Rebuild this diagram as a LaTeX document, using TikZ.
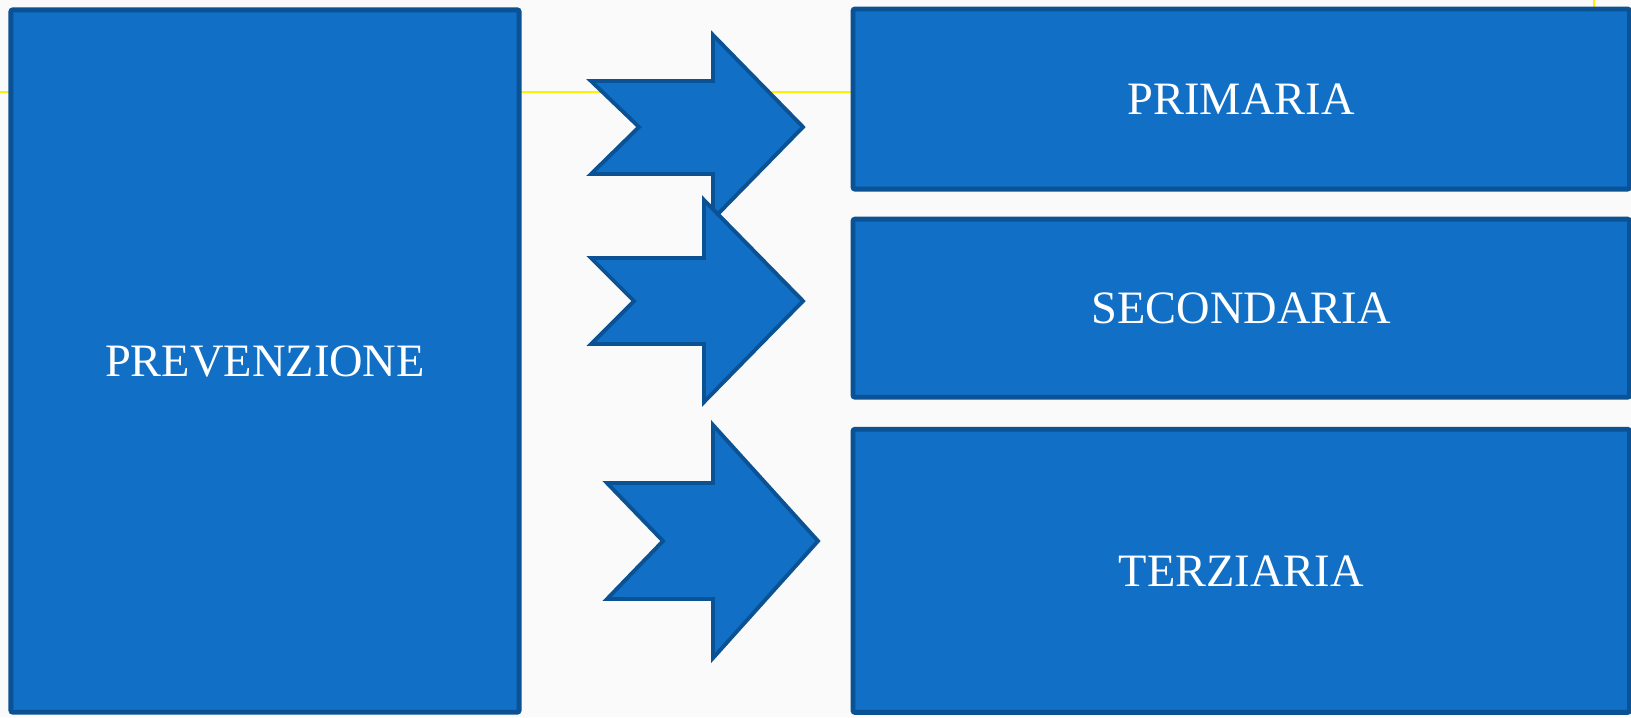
\documentclass[tikz,border=0pt]{standalone}
\usepackage{fontspec}
\setmainfont{Liberation Serif}
\usetikzlibrary{positioning}

\definecolor{boxblue}{RGB}{17,111,198}
\definecolor{edgeblue}{RGB}{11,82,148}
\definecolor{sheet}{RGB}{250,250,250}

\tikzstyle{block} = [draw=edgeblue, fill=boxblue, rectangle,
    line width=1.4pt, rounded corners=0.6pt, outer sep=0pt,
    text=white, font=\fontsize{13.2}{15}\selectfont]
\tikzstyle{fatarrow} = [draw=edgeblue, fill=boxblue, line width=1.1pt, line join=miter]

\begin{document}
\begin{tikzpicture}[x=0.01cm, y=-0.01cm]
          \fill[sheet] (0,0) rectangle (1631,717);
          \useasboundingbox (0,0) rectangle (1631,717);
          \draw[yellow, line width=0.6pt] (0,92) -- (853,92);
          \draw[yellow, line width=0.6pt] (1594,0) -- (1594,7);

          \node (prev) [block, minimum width=5.08cm, minimum height=7.02cm] at (265,361) {PREVENZIONE};
          \node (prim) [block, minimum width=7.76cm, minimum height=1.80cm, anchor=north west] at (853,9) {PRIMARIA};
          \node (sec) [block, minimum width=7.76cm, minimum height=1.78cm, below=0.3cm of prim] {SECONDARIA};
          \node (terz) [block, minimum width=7.76cm, minimum height=2.83cm, below=0.32cm of sec] {TERZIARIA};

          \draw [fatarrow] (591,81) -- (713,81) -- (713,35) -- (803,127) -- (713,219) -- (713,174) -- (591,174) -- (639,127) -- cycle;
          \draw [fatarrow] (591,258) -- (704,258) -- (704,200) -- (803,301) -- (704,402) -- (704,344) -- (591,344) -- (634,301) -- cycle;
          \draw [fatarrow] (607,483) -- (713,483) -- (713,425) -- (818,541) -- (713,658) -- (713,599) -- (607,599) -- (663,541) -- cycle;
        \end{tikzpicture}
\end{document}
